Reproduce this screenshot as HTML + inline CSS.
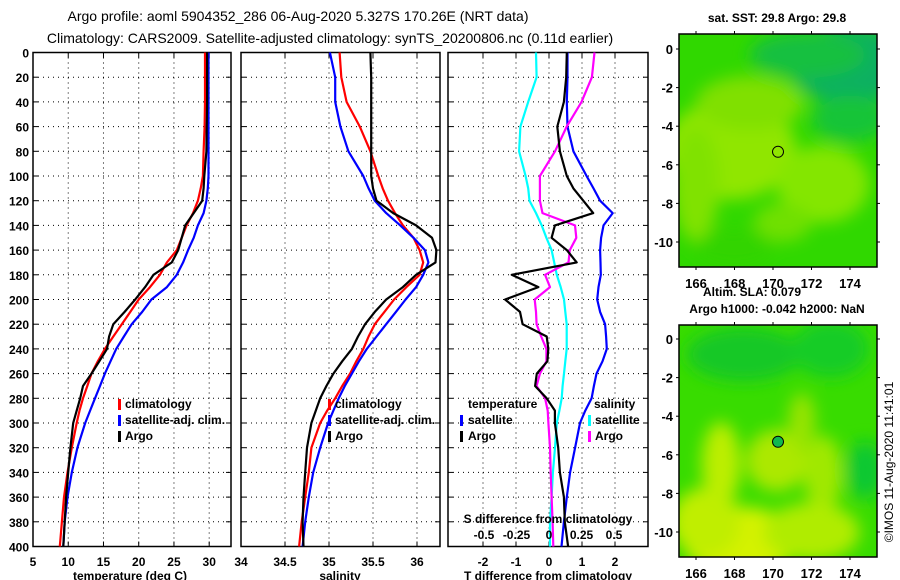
<!DOCTYPE html>
<html><head><meta charset="utf-8"><style>
html,body{margin:0;padding:0;background:#fff;}
svg{display:block;font-family:"Liberation Sans",Arial,sans-serif;font-weight:bold;}
</style></head><body>
<svg id="fig" width="900" height="580" viewBox="0 0 900 580" xmlns="http://www.w3.org/2000/svg">
<defs>
<filter id="blur1" x="-50%" y="-50%" width="200%" height="200%"><feGaussianBlur stdDeviation="8"/></filter>
<clipPath id="clipTop"><rect x="679" y="34" width="198" height="233"/></clipPath>
<clipPath id="clipBot"><rect x="679" y="325" width="198" height="232"/></clipPath>
</defs>
<text x="298" y="21" font-size="14" text-anchor="middle" font-weight="normal">Argo profile: aoml 5904352_286 06-Aug-2020 5.327S 170.26E (NRT data)</text>
<text x="330" y="43" font-size="14" text-anchor="middle" font-weight="normal">Climatology: CARS2009. Satellite-adjusted climatology: synTS_20200806.nc (0.11d earlier)</text>
<g id="panels"></g>
<g id="maps"></g>
</svg>
<script>
// ---------------- data ----------------
const depths = [0,20,40,60,80,100,110,120,130,140,150,160,170,180,190,200,210,220,230,240,250,260,270,280,290,300,320,340,360,380,400];
const tempClim = [29.4,29.4,29.4,29.35,29.2,29.1,28.8,28.4,27.7,26.8,26.1,25.4,24.0,23.0,21.6,20.0,18.8,17.6,16.4,15.2,14.2,13.3,12.7,12.1,11.6,11.2,10.5,9.9,9.4,9.1,8.8];
const tempSat = [29.9,29.9,29.9,29.9,29.9,29.9,29.8,29.6,29.2,28.4,27.8,27.0,26.3,25.4,24.0,21.8,20.5,19.0,17.9,16.8,16.0,15.2,14.5,13.8,13.1,12.4,11.3,10.5,9.9,9.5,9.3];
const tempArgo = [29.7,29.7,29.7,29.65,29.6,29.3,29.2,29.0,27.8,26.6,26.1,25.6,24.7,22.1,20.9,19.5,18.0,16.4,15.8,15.5,14.4,13.3,12.1,11.7,11.2,10.7,10.3,10.0,9.7,9.5,9.3];
const salClim = [35.12,35.14,35.20,35.35,35.47,35.56,35.61,35.67,35.75,35.84,35.96,36.03,36.07,36.03,35.88,35.74,35.63,35.52,35.45,35.39,35.31,35.24,35.15,35.07,34.98,34.90,34.80,34.77,34.73,34.69,34.66];
const salSat = [35.01,35.07,35.07,35.13,35.22,35.39,35.45,35.52,35.65,35.81,35.96,36.09,36.13,36.07,35.99,35.87,35.76,35.65,35.54,35.43,35.34,35.26,35.18,35.11,35.05,34.99,34.90,34.82,34.77,34.73,34.70];
const salArgo = [35.47,35.48,35.48,35.48,35.48,35.48,35.50,35.54,35.73,35.99,36.17,36.22,36.21,35.99,35.84,35.65,35.52,35.41,35.33,35.26,35.15,35.05,34.97,34.90,34.85,34.80,34.75,34.73,34.71,34.70,34.71];
const tDiffSat = [0.56,0.56,0.54,0.56,0.74,1.14,1.35,1.55,1.93,1.65,1.58,1.55,1.56,1.57,1.50,1.46,1.55,1.70,1.73,1.75,1.62,1.44,1.36,1.29,1.10,0.94,0.79,0.64,0.54,0.45,0.38];
const tDiffArgo = [0.54,0.52,0.45,0.25,0.33,0.54,0.74,1.04,1.34,0.18,0.08,0.54,0.84,-1.13,-0.32,-1.33,-0.88,-0.80,-0.07,-0.02,-0.05,-0.37,-0.42,-0.07,0.18,0.18,0.28,0.33,0.45,0.48,0.58];
const sDiffSat = [-0.10,-0.095,-0.16,-0.22,-0.23,-0.18,-0.16,-0.15,-0.10,-0.056,-0.02,0.02,0.04,0.06,0.09,0.115,0.125,0.136,0.136,0.136,0.125,0.115,0.105,0.098,0.08,0.06,0.046,0.03,0.02,0.008,0.008];
const sDiffArgo = [0.35,0.33,0.25,0.136,0.046,-0.07,-0.07,-0.07,-0.05,0.2,0.21,0.16,0.15,-0.03,0.008,-0.11,-0.10,-0.095,-0.06,-0.02,-0.02,-0.07,-0.095,-0.03,-0.01,-0.005,0.008,0.013,0.02,0.028,0.033];
const depthTicks = [0,20,40,60,80,100,120,140,160,180,200,220,240,260,280,300,320,340,360,380,400];
const tempTicks = [5,10,15,20,25,30];
const salTicks = [34,34.5,35,35.5,36];
const salTickLabels = ["34","34.5","35","35.5","36"];
const tdTicks = [-2,-1,0,1,2];
const sdTicks = [-0.5,-0.25,0,0.25,0.5];
const sdTickLabels = ["-0.5","-0.25","0","0.25","0.5"];
const lonTicks = [166,168,170,172,174];
const latTicks = [0,-2,-4,-6,-8,-10];
const argoLon = 170.26, argoLat = -5.327;

// ---------------- helpers ----------------
const NS = "http://www.w3.org/2000/svg";
function mk(tag, attrs, parent){const e=document.createElementNS(NS,tag);for(const k in attrs)e.setAttribute(k,attrs[k]);if(parent)parent.appendChild(e);return e;}
const TOP=52.5, BOT=546.5;
const yD = d => TOP + (d/400)*(BOT-TOP);
function lin(d0,d1,r0,r1){return v=>r0+(v-d0)*(r1-r0)/(d1-d0);}
const panels = document.getElementById('panels');

function panelFrame(x0,x1,name,xTicks,xScale){
  const g = mk('g',{},panels);
  
  
  depthTicks.forEach(d=>{ if(d>0&&d<400){ const l=mk('line',{x1:x0,x2:x1,y1:yD(d),y2:yD(d),stroke:'#000','stroke-width':1,'stroke-dasharray':'1,4'},g);
     
    mk('line',{x1:x0,x2:x0+5,y1:yD(d),y2:yD(d),stroke:'#000'},g); mk('line',{x1:x1-5,x2:x1,y1:yD(d),y2:yD(d),stroke:'#000'},g);} });
  xTicks.forEach(t=>{ const x=xScale(t); if(x>x0+1&&x<x1-1){ const l=mk('line',{x1:x,x2:x,y1:TOP,y2:BOT,stroke:'#000','stroke-width':1,'stroke-dasharray':'1,4'},g);
     
    mk('line',{x1:x,x2:x,y1:TOP,y2:TOP+5,stroke:'#000'},g); mk('line',{x1:x,x2:x,y1:BOT-5,y2:BOT,stroke:'#000'},g);} });
  const r = mk('rect',{x:x0,y:TOP,width:x1-x0,height:BOT-TOP,fill:'none',stroke:'#000','stroke-width':1.5},g);
   
  return g;
}
function series(g,xs,scale,color,name,w){
  const pts = xs.map((v,i)=>scale(v).toFixed(1)+','+yD(depths[i]).toFixed(1)).join(' ');
  const p = mk('polyline',{points:pts,fill:'none',stroke:color,'stroke-width':w||2.2,'stroke-linejoin':'round'},g);
  
  
}
function txt(g,x,y,s,size,anchor,name,extra){
  const t = mk('text',Object.assign({x:x,y:y,'font-size':size,'text-anchor':anchor||'start'},extra||{}),g);
  t.textContent = s;
  
  
  return t;
}
function legendMark(g,x,y,color){const m=mk('rect',{x:x,y:y-9,width:3,height:11,fill:color},g);}

// ---------------- panel 1: temperature ----------------
const xT = lin(5,30,33,209.2);
const g1 = panelFrame(33,231,'temperature-panel',tempTicks,xT);
series(g1,tempClim,xT,'#ff0000','temp-climatology-line');
series(g1,tempSat,xT,'#0000ff','temp-satellite-line');
series(g1,tempArgo,xT,'#000000','temp-argo-line');
depthTicks.forEach(d=>txt(g1,29,yD(d)+5,String(d),12,'end','depth-tick-label'));
tempTicks.forEach(t=>txt(g1,xT(t),566,String(t),12,'middle','temp-tick-label'));
txt(g1,130,580,'temperature (deg C)',12,'middle','temp-axis-title');
legendMark(g1,118,408,'#ff0000'); txt(g1,125,408,'climatology',12,'start','legend-climatology');
legendMark(g1,118,424,'#0000ff'); txt(g1,125,424,'satellite-adj. clim.',12,'start','legend-satellite-adj');
legendMark(g1,118,440,'#000'); txt(g1,125,440,'Argo',12,'start','legend-argo');

// ---------------- panel 2: salinity ----------------
const xS = lin(34,36,241,417);
const g2 = panelFrame(241,440,'salinity-panel',salTicks,xS);
series(g2,salClim,xS,'#ff0000','sal-climatology-line');
series(g2,salSat,xS,'#0000ff','sal-satellite-line');
series(g2,salArgo,xS,'#000000','sal-argo-line');
salTicks.forEach((t,i)=>txt(g2,xS(t),566,salTickLabels[i],12,'middle','sal-tick-label'));
txt(g2,340,580,'salinity',12,'middle','sal-axis-title');
legendMark(g2,328,408,'#ff0000'); txt(g2,335,408,'climatology',12,'start','legend-climatology');
legendMark(g2,328,424,'#0000ff'); txt(g2,335,424,'satellite-adj. clim.',12,'start','legend-satellite-adj');
legendMark(g2,328,440,'#000'); txt(g2,335,440,'Argo',12,'start','legend-argo');

// ---------------- panel 3: differences ----------------
const xTD = lin(0,1,549,582);
const xSD = lin(0,1,549,679);
const g3 = panelFrame(448,648,'difference-panel',tdTicks,xTD);
series(g3,sDiffSat,xSD,'#00ffff','sal-diff-satellite-line');
series(g3,tDiffSat,xTD,'#0000ff','temp-diff-satellite-line');
series(g3,sDiffArgo,xSD,'#ff00ff','sal-diff-argo-line');
series(g3,tDiffArgo,xTD,'#000000','temp-diff-argo-line');
tdTicks.forEach(t=>txt(g3,xTD(t),566,String(t),12,'middle','tdiff-tick-label'));
txt(g3,548,580,'T difference from climatology',12,'middle','tdiff-axis-title');
txt(g3,548,523,'S difference from climatology',12,'middle','sdiff-axis-title');
sdTicks.forEach((t,i)=>txt(g3,xSD(t),539,sdTickLabels[i],12,'middle','sdiff-tick-label'));
txt(g3,468,408,'temperature',12,'start','legend-temperature-heading');
legendMark(g3,460,424,'#0000ff'); txt(g3,468,424,'satellite',12,'start','legend-temp-satellite');
legendMark(g3,460,440,'#000'); txt(g3,468,440,'Argo',12,'start','legend-temp-argo');
txt(g3,594,408,'salinity',12,'start','legend-salinity-heading');
legendMark(g3,588,424,'#00ffff'); txt(g3,595,424,'satellite',12,'start','legend-sal-satellite');
legendMark(g3,588,440,'#ff00ff'); txt(g3,595,440,'Argo',12,'start','legend-sal-argo');

// ---------------- maps ----------------
const maps = document.getElementById('maps');
function mapPanel(y0,h,lat0y,clip,name,blobs,base,filled){
  const g = mk('g',{},maps);
  
  
  const xL = lin(166,174,696,850), yL = lin(0,-10,lat0y,lat0y+193);
  const inner = mk('g',{'clip-path':'url(#'+clip+')'},g);
  mk('rect',{x:679,y:y0,width:198,height:h,fill:base},inner);
  const bg = mk('g',{filter:'url(#blur1)'},inner);
  blobs.forEach(b=>mk('ellipse',{cx:xL(b[0]),cy:yL(b[1]),rx:b[2]*19.25,ry:b[3]*19.3,fill:b[4]},bg));
  mk('rect',{x:679,y:y0,width:198,height:h,fill:'none',stroke:'#000','stroke-width':1.5},g);
  lonTicks.forEach(t=>{mk('line',{x1:xL(t),x2:xL(t),y1:y0-3,y2:y0,stroke:'#000'},g);mk('line',{x1:xL(t),x2:xL(t),y1:y0+h,y2:y0+h+3,stroke:'#000'},g);
    txt(g,xL(t),y0+h+21,String(t),13,'middle','lon-tick-label');});
  latTicks.forEach(t=>{mk('line',{x1:676,x2:679,y1:yL(t),y2:yL(t),stroke:'#000'},g);mk('line',{x1:877,x2:880,y1:yL(t),y2:yL(t),stroke:'#000'},g);
    txt(g,673,yL(t)+5,String(t),13,'end','lat-tick-label');});
  const c = mk('circle',{cx:xL(argoLon),cy:yL(argoLat),r:5.5,fill:filled?'#10b850':'none',stroke:'#000','stroke-width':1},g);
   
  return g;
}
const m1 = mapPanel(34,233,49,'clipTop','sst-map',[
  [167.8,-5.2,3.4,2.6,'#90e600'],[168.8,-2.8,2.8,1.4,'#80e000'],[172.6,-7,2.4,2,'#84e600'],[166,-7,1.2,3,'#80e200'],
  [170.5,-9,1.5,1,'#70e000'],
  [174,-0.8,3.2,2,'#08b060'],[171.8,-0.3,3,1.2,'#14c040'],[174,-3.6,2,1.2,'#14c438'],[168,-10.3,2,1,'#30d400']],'#30d800',false);
txt(m1,777,22,'sat. SST: 29.8 Argo: 29.8',12,'middle','sst-map-title');
const m2 = mapPanel(325,232,339,'clipBot','sla-map',[
  [168.3,-10.5,3,1.8,'#d4f200'],[166.5,-9.5,1.8,1.8,'#c0ee00'],[167.3,-6.5,1,2.2,'#bcee00'],[170.2,-6.3,1.6,1.6,'#ace800'],
  [171.5,-4.3,0.7,1.5,'#98e400'],[172.6,-7,1,2,'#a0e800'],[172,-10,2.5,1.5,'#b0ec00'],[168.5,-0.8,3,1.4,'#18c828'],
  [173,-0.5,2,1.5,'#18cc28'],[174.8,-6.8,1,1.5,'#10c830']],'#38dc00',true);
txt(maps,752,296,'Altim. SLA: 0.079',12,'middle','sla-value-label');
txt(maps,777,313,'Argo h1000: -0.042 h2000: NaN',12,'middle','argo-height-label');
txt(maps,893,462,'©IMOS 11-Aug-2020 11:41:01',12,'middle','copyright-label',{transform:'rotate(-90 893 462)','font-weight':'normal'});
</script>
</body></html>
